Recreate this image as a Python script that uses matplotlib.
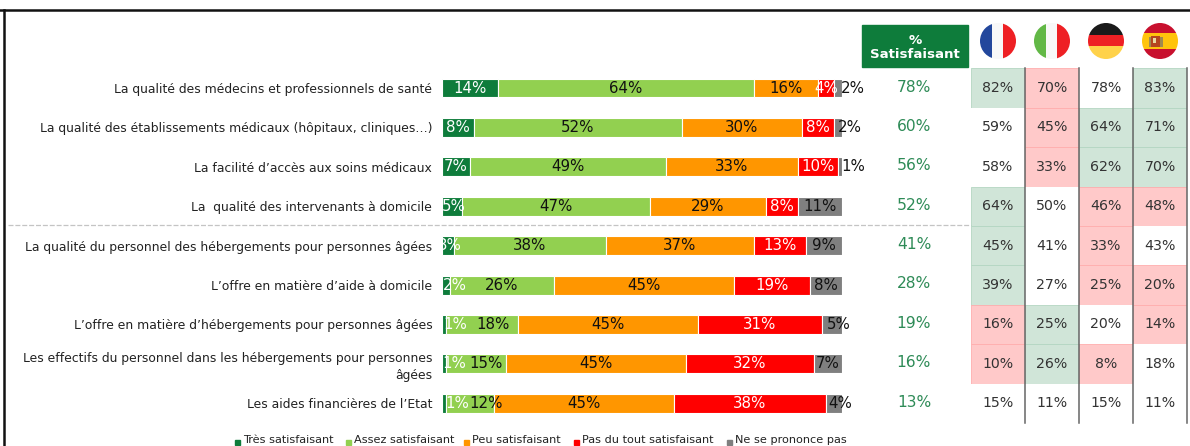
import matplotlib
matplotlib.use("Agg")
import matplotlib.pyplot as plt
from matplotlib.patches import Rectangle, Circle

W, H = 1190, 446

labels = ["La qualité des médecins et professionnels de santé",
          "La qualité des établissements médicaux (hôpitaux, cliniques…)",
          "La facilité d’accès aux soins médicaux",
          "La  qualité des intervenants à domicile",
          "La qualité du personnel des hébergements pour personnes âgées",
          "L’offre en matière d’aide à domicile",
          "L’offre en matière d’hébergements pour personnes âgées",
          "Les effectifs du personnel dans les hébergements pour personnes\nâgées",
          "Les aides financières de l’Etat"]
series_names = ["Très satisfaisant", "Assez satisfaisant", "Peu satisfaisant",
                "Pas du tout satisfaisant", "Ne se prononce pas"]
tres = [14, 8, 7, 5, 3, 2, 1, 1, 1]
assez = [64, 52, 49, 47, 38, 26, 18, 15, 12]
peu = [16, 30, 33, 29, 37, 45, 45, 45, 45]
pas_du_tout = [4, 8, 10, 8, 13, 19, 31, 32, 38]
nspp = [2, 2, 1, 11, 9, 8, 5, 7, 4]
satisfaisant = [78, 60, 56, 52, 41, 28, 19, 16, 13]
france = [82, 59, 58, 64, 45, 39, 16, 10, 15]
italie = [70, 45, 33, 50, 41, 27, 25, 26, 11]
allemagne = [78, 64, 62, 46, 33, 25, 20, 8, 15]
espagne = [83, 71, 70, 48, 43, 20, 14, 18, 11]
# g = significantly higher, r = significantly lower, n = neutral
france_flag = list("gnngggrrn")
italie_flag = list("rrrnnnggn")
allemagne_flag = list("nggrrrnrn")
espagne_flag = list("gggrnrrnn")

COLORS = ["#0E7C3B", "#92D050", "#FF9600", "#FF0000", "#7F7F7F"]
TXT = ["white", "#111111", "#111111", "white", "#111111"]
plt.rcParams["font.family"] = "DejaVu Sans"

fig = plt.figure(figsize=(W / 100, H / 100), dpi=100, facecolor="white")

def box(x0, y0, x1, y1, **kw):
    return fig.add_axes([x0 / W, 1 - y1 / H, (x1 - x0) / W, (y1 - y0) / H], **kw)

# pixel overlay for frame and decoration
ov = fig.add_axes([0, 0, 1, 1], zorder=0)
ov.set_xlim(0, W); ov.set_ylim(H, 0); ov.axis("off")
ov.plot([0, W], [10, 10], color="#111111", lw=1.8)
ov.plot([4, 4], [10, H], color="#111111", lw=1.8)
ov.plot([8, 975], [225, 225], color="#c4c4c4", lw=0.9, ls=(0, (4, 1.5)))

# stacked bars
ax = box(442, 68.3, 842, 423, zorder=2)
ax.patch.set_alpha(0)
ax.set_xlim(0, 100); ax.set_ylim(8.5, -0.5)
for s in ax.spines.values():
    s.set_visible(False)
ax.tick_params(length=0, pad=7)
ax.xaxis.set_visible(False)
ax.set_yticks(range(len(labels)))
ax.set_yticklabels(labels, fontsize=8.93, color="#222222", ha="right", linespacing=1.35)

nudges = {(0, 4): 15, (1, 4): 12, (2, 4): 13, (4, 0): 2, (5, 0): 9, (6, 0): 11, (7, 0): 10,
          (8, 0): 13, (8, 1): 16, (7, 1): 10, (6, 1): 11, (6, 4): 7, (8, 4): 6,
          (3, 0): 2}
left = [0] * len(labels)
for k, vals in enumerate([tres, assez, peu, pas_du_tout, nspp]):
    ax.barh(range(len(labels)), vals, left=left, height=0.48, color=COLORS[k],
            edgecolor="white", linewidth=0.8, label=series_names[k])
    for i, v in enumerate(vals):
        ax.annotate(f"{v}%", (left[i] + v / 2, i), xytext=(nudges.get((i, k), 0) * 0.72, 0),
                    textcoords="offset points", ha="center", va="center",
                    fontsize=10.8, color=TXT[k], clip_on=False, annotation_clip=False)
    left = [a + b for a, b in zip(left, vals)]

# % satisfaisant column
ov.add_patch(Rectangle((862, 25), 106, 42, color="#0E7C3B"))
ov.text(915, 47.5, "%\nSatisfaisant", color="white", fontsize=9.6, fontweight="bold",
        ha="center", va="center", linespacing=1.15)
for i, v in enumerate(satisfaisant):
    ov.text(914, 88 + i * 39.4 - 1, f"{v}%", color="#2E8B57", fontsize=11.2,
            ha="center", va="center")

# country table
tb = box(971, 68.3, 1187, 423, zorder=1)
tb.set_xlim(0, 4); tb.set_ylim(9, 0); tb.axis("off")
CELL = {"g": "#D0E5D8", "r": "#FFC9C9", "n": "white"}
EDGE = {"g": "#B4D6C2", "r": "#FFAEAE", "n": "none"}
cols = [(france, france_flag), (italie, italie_flag), (allemagne, allemagne_flag), (espagne, espagne_flag)]
for c, (vals, flags) in enumerate(cols):
    for r, (v, f) in enumerate(zip(vals, flags)):
        tb.add_patch(Rectangle((c, r), 1, 1, facecolor=CELL[f], edgecolor=EDGE[f], linewidth=0.6))
        tb.text(c + 0.5, r + 0.5, f"{v}%", ha="center", va="center", fontsize=10.2, color="#333333")
for c in [1, 2, 3, 4]:
    tb.plot([c, c], [0, 9], color="#666666", lw=1.1, clip_on=False)

# flags
def flag(cx, parts, extra=()):
    clip = Circle((cx, 41), 18, transform=ov.transData)
    for (x0, y0, x1, y1, col) in list(parts) + list(extra):
        p = Rectangle((cx + x0, 41 + y0), x1 - x0, y1 - y0, facecolor=col, edgecolor="none")
        ov.add_patch(p)
        p.set_clip_path(clip)

flag(998, [(-18, -18, -6, 18, "#23479C"), (-6, -18, 5, 18, "#F8F8F8"), (5, -18, 18, 18, "#EE2024")])
flag(1052, [(-18, -18, -6, 18, "#62B846"), (-6, -18, 5, 18, "#F8F8F8"), (5, -18, 18, 18, "#EE2024")])
flag(1106, [(-18, -18, 18, -6, "#1A1A1A"), (-18, -6, 18, 5, "#EE2024"), (-18, 5, 18, 18, "#FFD24A")])
flag(1160, [(-18, -18, 18, -8, "#C8102E"), (-18, -8, 18, 8, "#FFC40C"), (-18, 8, 18, 18, "#C8102E")],
     [(-9, -5, 0, 6, "#B5451F"), (-11, -4, -9, 6, "#A08A50"), (0, -4, 2.5, 6, "#A08A50"),
      (-7, -3, -4.5, 2, "#E8D9A0")])

# legend, pushed up just enough to stay inside the picture
leg_x = [235, 346, 464, 574, 727]
for x, name, col in zip(leg_x, series_names, COLORS):
    ov.add_patch(Rectangle((x, 440), 5, 5, color=col))
    ov.text(x + 8, 440.3, name, fontsize=8.1, color="#222222", va="center", ha="left")

fig.savefig("out.png", dpi=100)
